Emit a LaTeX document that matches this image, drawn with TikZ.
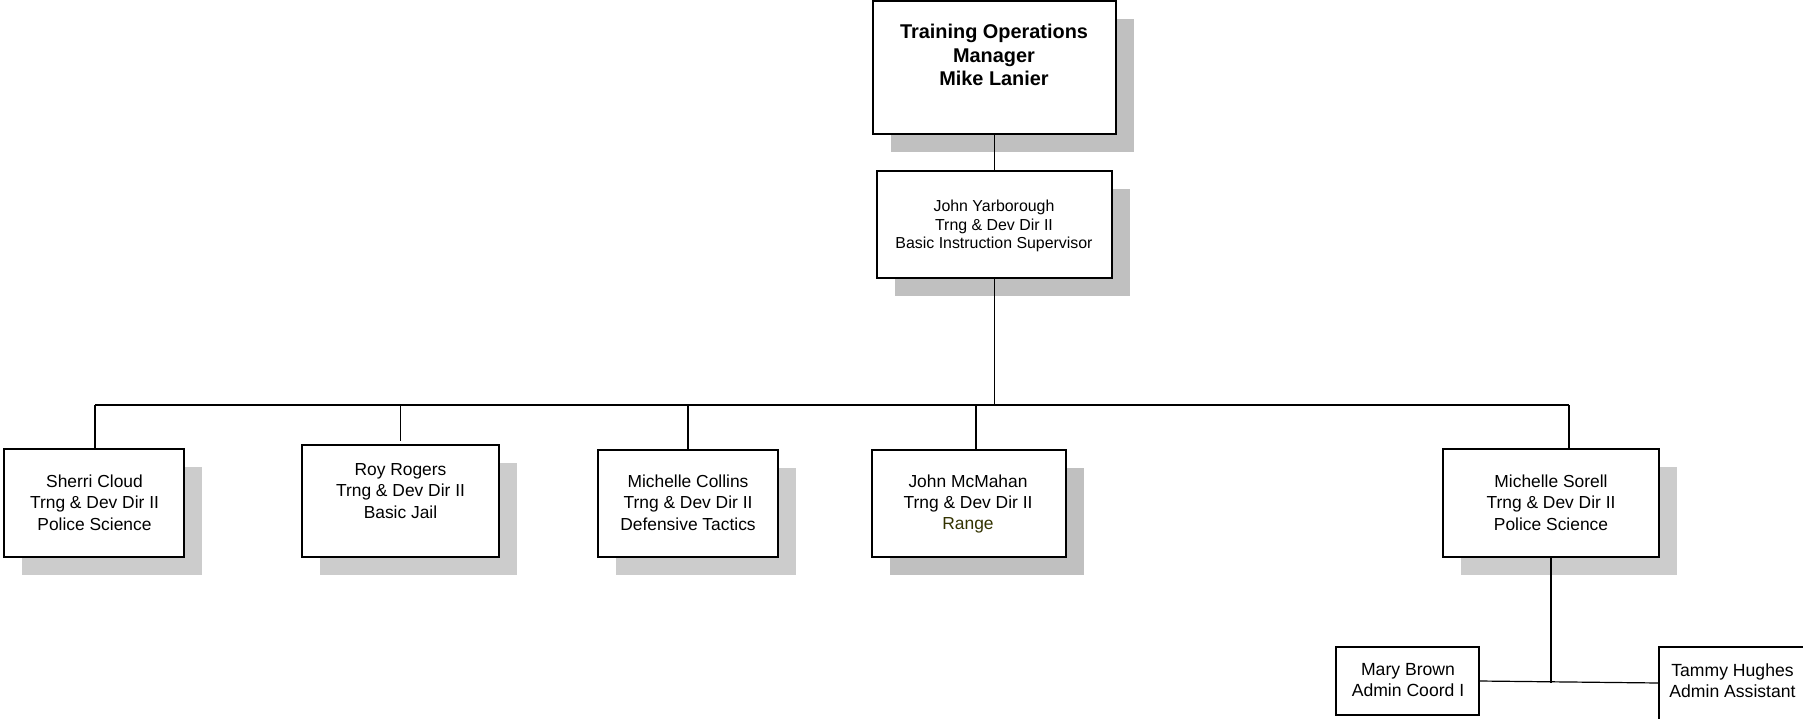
\documentclass[tikz,border=0pt]{standalone}
\usepackage{fontspec}
\setmainfont{Liberation Sans}
\usetikzlibrary{shadows}
\definecolor{shadowlight}{HTML}{CCCCCC}
\definecolor{shadowdark}{HTML}{C0C0C0}
\definecolor{rangeolive}{HTML}{333300}
\begin{document}
\begin{tikzpicture}[x=1pt,y=-1pt,
  orgbox/.style={rectangle, draw=black, line width=1.4pt, fill=white,
    inner sep=0pt, outer sep=0pt},
  shadowed/.style={general shadow={fill=#1, shadow xshift=17.5pt, shadow yshift=-18pt}},
  shadowed/.default=shadowlight,
  conn/.style={draw=black, line width=1.2pt},
  txtbold/.style={align=center, inner sep=0pt, font=\fontsize{19.9}{23.7}\selectfont\bfseries},
  txtsmall/.style={align=center, inner sep=0pt, font=\fontsize{15.9}{18.7}\selectfont},
  txt/.style={align=center, inner sep=0pt, font=\fontsize{17.4}{21.3}\selectfont},
  txtsub/.style={align=center, inner sep=0pt, font=\fontsize{17.6}{21}\selectfont},
]
\path[use as bounding box, clip] (0,0) rectangle (1803,719);

% manager and supervisor
\node[orgbox, shadowed=shadowdark, minimum width=243pt, minimum height=133pt] (top) at (994.5,67.5) {};
\node[txtbold] (top-t) at (994,55) {Training Operations\\Manager\\Mike Lanier};

\node[orgbox, shadowed=shadowdark, minimum width=235pt, minimum height=107pt] (yar) at (994.5,224.5) {};
\node[txtsmall] (yar-t) at (994,226) {John Yarborough\\Trng \& Dev Dir II\\Basic Instruction Supervisor};

% directors
\node[orgbox, shadowed, minimum width=180pt, minimum height=108pt] (sherri) at (94,503) {};
\node[txt] (sherri-t) at (94.5,502.5) {Sherri Cloud\\Trng \& Dev Dir II\\Police Science};

\node[orgbox, shadowed, minimum width=197pt, minimum height=112pt] (roy) at (400.5,501) {};
\node[txt] (roy-t) at (400.5,491) {Roy Rogers\\Trng \& Dev Dir II\\Basic Jail};

\node[orgbox, shadowed, minimum width=180pt, minimum height=107pt] (collins) at (688,503.5) {};
\node[txt] (collins-t) at (688,502.5) {Michelle Collins\\Trng \& Dev Dir II\\Defensive Tactics};

\node[orgbox, shadowed=shadowdark, minimum width=194pt, minimum height=107pt] (mcm) at (969,503.5) {};
\node[txt] (mcm-t) at (968,504) {John McMahan\\Trng \& Dev Dir II\\\textcolor{rangeolive}{Range}};

\node[orgbox, shadowed, minimum width=216pt, minimum height=108pt] (sorell) at (1551,503) {};
\node[txt] (sorell-t) at (1551,502.5) {Michelle Sorell\\Trng \& Dev Dir II\\Police Science};

% support staff
\node[orgbox, minimum width=143pt, minimum height=68pt] (mary) at (1407.5,681) {};
\node[txtsub] (mary-t) at (1408,680) {Mary Brown\\Admin Coord I};

\node[orgbox, minimum width=147pt, minimum height=74pt] (tammy) at (1732.5,684) {};
\node[txtsub] (tammy-t) at (1732.5,681) {Tammy Hughes\\Admin Assistant};

% connectors
\coordinate (busL) at (95,405);
\coordinate (busR) at (1569,405);
\coordinate (subj) at (1551,683);

\draw[conn] (top.south) -- (yar.north);
\draw[conn] (yar.south) -- (yar.south |- busL);
\draw[conn] (busL) -- (busR);
\draw[conn] (busL) -- (busL |- sherri.north);
\draw[conn] (roy.north |- busL) -- ([yshift=4pt]roy.north);
\draw[conn] (collins.north |- busL) -- (collins.north);
\draw[conn] ([xshift=7pt]mcm.north |- busL) -- ([xshift=7pt]mcm.north);
\draw[conn] (busR) -- ([xshift=18pt]sorell.north);
\draw[conn] (sorell.south) -- (subj);
\draw[conn] (mary.east) -- ([yshift=1pt]tammy.west);
\end{tikzpicture}
\end{document}
